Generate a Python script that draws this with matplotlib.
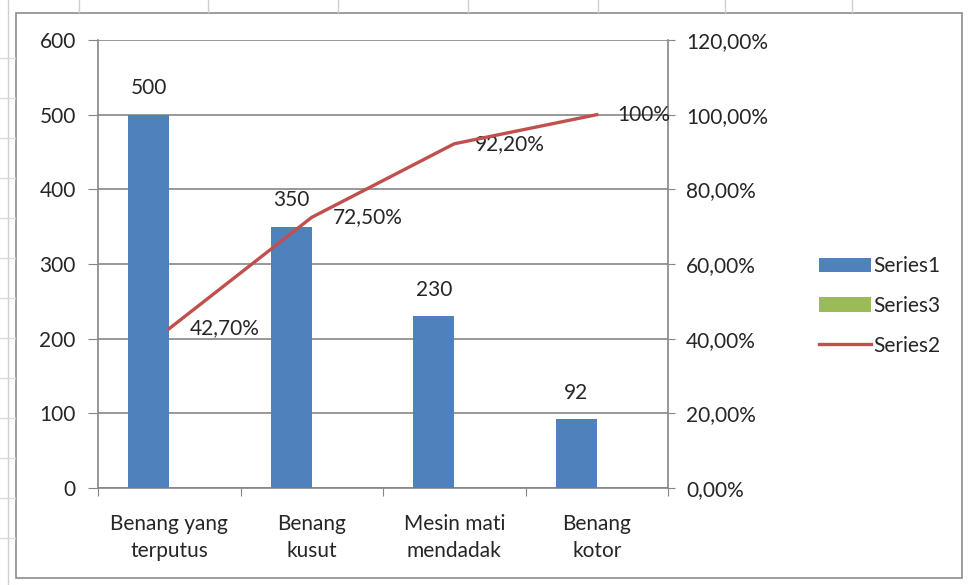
import numpy as np
import matplotlib.pyplot as plt
from matplotlib.patches import Rectangle, Patch
from matplotlib.lines import Line2D
from matplotlib.ticker import FuncFormatter

plt.rcParams['font.family'] = ['Lato', 'DejaVu Sans']

categories = ['Benang yang\nterputus', 'Benang\nkusut', 'Mesin mati\nmendadak', 'Benang\nkotor']
series1 = [500, 350, 230, 92]
series3 = [0, 0, 0, 0]
series2 = [0.427, 0.725, 0.922, 1.0]
series2_labels = ['42,70%', '72,50%', '92,20%', '100%']

blue = '#4F81BD'
green = '#9BBB59'
red = '#C0504D'
grid_col = '#868686'
txt_col = '#262626'
fs = 15

W, H = 972, 585
fig = plt.figure(figsize=(W / 100, H / 100), dpi=100)
fig.patch.set_facecolor('white')

# outer chart frame plus the sheet gridline stubs around it
fig.add_artist(Rectangle((16 / W, 1 - 578 / H), (962 - 16) / W, (578 - 13) / H,
                         transform=fig.transFigure, fill=False, edgecolor='#8c8c8c', lw=1.2))
fig.add_artist(Line2D([8 / W, 8 / W], [0, 1], transform=fig.transFigure, color='#d0d0d0', lw=1))
for xp in [79, 208, 338, 468, 598, 725, 852]:
    fig.add_artist(Line2D([xp / W, xp / W], [1, 1 - 12 / H], transform=fig.transFigure,
                          color='#cfcfcf', lw=1))
for yp in range(58, 578, 40):
    fig.add_artist(Line2D([0, 15 / W], [1 - yp / H, 1 - yp / H], transform=fig.transFigure,
                          color='#dadada', lw=1))

ax = fig.add_axes([98 / W, 1 - 488 / H, (668 - 98) / W, (488 - 40) / H])
ax2 = ax.twinx()

x = np.arange(len(categories))
bw = 0.286
ax.bar(x - bw / 2, series1, width=bw, color=blue, zorder=3)
ax.bar(x + bw / 2, series3, width=bw, color=green, zorder=3)

ax.set_xlim(-0.5, len(categories) - 0.5)
ax.set_ylim(0, 600)
ax.set_yticks(range(0, 601, 100))
ax.yaxis.grid(True, color=grid_col, lw=1.2, zorder=0)
ax.set_axisbelow(True)
ax.set_xticks(np.arange(len(categories) + 1) - 0.5)
ax.set_xticklabels([])
ax.set_xticks(x, minor=True)
ax.set_xticklabels(categories, minor=True, fontsize=fs, color=txt_col, linespacing=1.4)
ax.tick_params(axis='x', which='minor', length=0, pad=19)
ax.tick_params(axis='x', which='major', length=6, color=grid_col, direction='out')
ax.tick_params(axis='y', length=7, color=grid_col, labelsize=fs, labelcolor=txt_col, pad=9)

for s in ['top', 'right']:
    ax.spines[s].set_visible(False)
for s in ['left', 'bottom']:
    ax.spines[s].set_color(grid_col)
    ax.spines[s].set_linewidth(1.2)

for xi, v in zip(x, series1):
    ax.annotate(str(v), (xi - bw / 2, v), xytext=(0, 19), textcoords='offset points',
                ha='center', va='center', fontsize=fs, color=txt_col)

ax2.plot(x, series2, color=red, lw=2.4, zorder=4)
ax2.set_ylim(0, 1.2)
ax2.set_yticks(np.arange(0, 1.21, 0.2))
ax2.yaxis.set_major_formatter(FuncFormatter(lambda v, p: f'{v * 100:.2f}%'.replace('.', ',')))
ax2.tick_params(axis='y', length=5, color=grid_col, labelsize=fs, labelcolor=txt_col, pad=8)
for s in ['top', 'left', 'bottom']:
    ax2.spines[s].set_visible(False)
ax2.spines['right'].set_color(grid_col)
ax2.spines['right'].set_linewidth(1.2)

for xi, v, lab in zip(x, series2, series2_labels):
    ax2.annotate(lab, (xi, v), xytext=(15, 0), textcoords='offset points',
                 ha='left', va='center', fontsize=fs, color=txt_col)

handles = [Patch(facecolor=blue, edgecolor='none'),
           Patch(facecolor=green, edgecolor='none'),
           Line2D([], [], color=red, lw=2.4)]
fig.legend(handles, ['Series1', 'Series3', 'Series2'], loc='center left',
           bbox_to_anchor=(800 / W, 1 - 306 / H), frameon=False, fontsize=fs,
           handlelength=2.5, handleheight=0.7, handletextpad=0.1, labelspacing=0.95,
           labelcolor=txt_col)

fig.savefig('out.png', dpi=100)
